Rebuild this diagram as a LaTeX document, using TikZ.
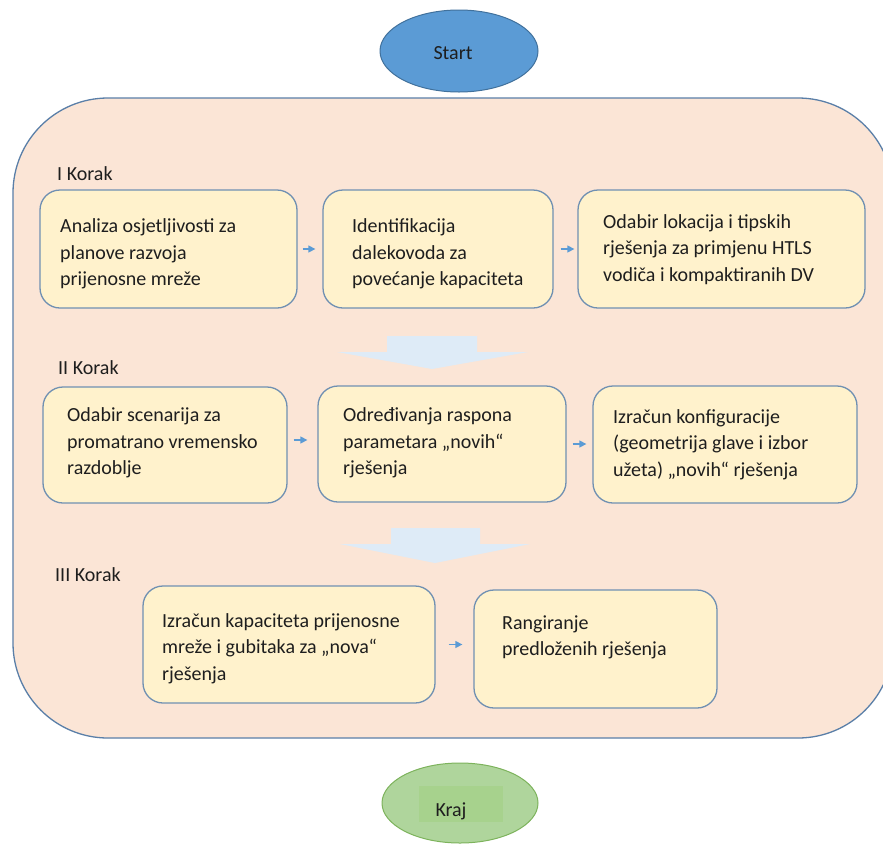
\documentclass[tikz,border=0pt]{standalone}
\usepackage{fontspec}
\setmainfont{Carlito}
\usetikzlibrary{shapes.geometric,arrows.meta}
\definecolor{pagebg}{HTML}{FFFFFF}
\definecolor{bigfill}{HTML}{FBE5D6}
\definecolor{bigdraw}{HTML}{5A7FA8}
\definecolor{boxfill}{HTML}{FFF2CC}
\definecolor{boxdraw}{HTML}{7090B2}
\definecolor{arrblue}{HTML}{5B9BD5}
\definecolor{blockarr}{HTML}{DEEBF7}
\definecolor{startfill}{HTML}{5B9BD5}
\definecolor{startdraw}{HTML}{41719C}
\definecolor{krajfill}{HTML}{AFD59C}
\definecolor{krajdraw}{HTML}{7DB35C}
\definecolor{krajinner}{HTML}{A7D28D}
\definecolor{txtcol}{HTML}{1E1E1E}
\tikzset{
  stepbox/.style={draw=boxdraw, fill=boxfill, line width=1.3pt, rounded corners=20pt, inner sep=0pt},
  txt/.style={anchor=base west, align=left, inner sep=0pt, text=txtcol, font=\fontsize{20}{26.6}\selectfont},
  lbl/.style={anchor=base west, inner sep=0pt, text=txtcol, font=\fontsize{20}{24}\selectfont},
  arr/.style={draw=arrblue, line width=1.3pt, -{Triangle[length=7pt,width=7pt]}},
  blockarrow/.style={fill=blockarr, draw=none},
}
\begin{document}
\begin{tikzpicture}[x=1pt,y=-1pt]
\useasboundingbox (0,0) rectangle (883,844);
\clip (0,0) rectangle (883,844);
\fill[pagebg] (0,0) rectangle (883,844);

% big container
\node[draw=bigdraw, fill=bigfill, line width=1.3pt, rounded corners=95pt, minimum width=880pt, minimum height=640pt, inner sep=0pt] (container) at (453,418) {};

% start / end
\node[ellipse, draw=startdraw, fill=startfill, line width=1pt, minimum width=158pt, minimum height=82pt, inner sep=0pt] (start) at (459,51) {};
\node[lbl, anchor=base] (starttxt) at (453,59.3) {Start};

\node[ellipse, draw=krajdraw, fill=krajfill, line width=1pt, minimum width=156pt, minimum height=80pt, inner sep=0pt] (kraj) at (460,803) {};
\node[fill=krajinner, minimum width=84pt, minimum height=36pt, inner sep=0pt] (krajbox) at (461,804) {};
\node[lbl, anchor=base] (krajtxt) at (451,816) {Kraj};

% step labels
\node[lbl] (k1) at (57,180) {I Korak};
\node[lbl] (k2) at (58,374.3) {II Korak};
\node[lbl] (k3) at (55,581.7) {III Korak};

% block arrows
\fill[blockarrow] (387,336) -- (477,336) -- (477,352) -- (528,352) -- (432,369) -- (337,352) -- (387,352) -- cycle;
\fill[blockarrow] (391,528) -- (480,528) -- (480,544) -- (530,544) -- (435,563) -- (340,544) -- (391,544) -- cycle;

% boxes
\node[stepbox, minimum width=257pt, minimum height=118pt] (a) at (168.5,249) {};
\node[stepbox, minimum width=230pt, minimum height=118pt] (b) at (438,249) {};
\node[stepbox, minimum width=287pt, minimum height=118pt] (c) at (721.5,249) {};
\node[stepbox, minimum width=244pt, minimum height=116pt] (d) at (165,445) {};
\node[stepbox, minimum width=248pt, minimum height=116pt] (e) at (442,444) {};
\node[stepbox, minimum width=264pt, minimum height=117pt] (f) at (725,444.5) {};
\node[stepbox, minimum width=292pt, minimum height=117pt] (g) at (289,644.5) {};
\node[stepbox, minimum width=243pt, minimum height=118pt] (h) at (595.5,649) {};

% texts (anchored at baseline of last line)
\node[txt] (ta) at (60,285.9) {Analiza osjetljivosti za\\planove razvoja\\prijenosne mreže};
\node[txt] (tb) at (352,285.9) {Identifikacija\\dalekovoda za\\povećanje kapaciteta};
\node[txt] (tc) at (603,281.2) {Odabir lokacija i tipskih\\rješenja za primjenu HTLS\\vodiča i kompaktiranih DV};
\node[txt] (td) at (67,474.9) {Odabir scenarija za\\promatrano vremensko\\razdoblje};
\node[txt] (te) at (343,474.9) {Određivanja raspona\\parametara „novih“\\rješenja};
\node[txt] (tf) at (613,476.5) {Izračun konfiguracije\\(geometrija glave i izbor\\užeta) „novih“ rješenja};
\node[txt] (tg) at (162,680.5) {Izračun kapaciteta prijenosne\\mreže i gubitaka za „nova“\\rješenja};
\node[txt] (th) at (502,655.9) {Rangiranje\\predloženih rješenja};

% small arrows
\draw[arr, shorten <=5pt, shorten >=7pt] (a.east) -- (b.west);
\draw[arr, shorten <=7pt, shorten >=3pt] (b.east) -- (c.west);
\draw[arr, shorten <=6pt, shorten >=10pt] ([yshift=5pt]d.east) -- ([yshift=5pt]d.east -| e.west);
\draw[arr, shorten <=6pt, shorten >=6pt] (e.east) -- (e.east -| f.west);
\draw[arr, shorten <=13pt, shorten >=11pt] (g.east) -- (g.east -| h.west);
\end{tikzpicture}
\end{document}
